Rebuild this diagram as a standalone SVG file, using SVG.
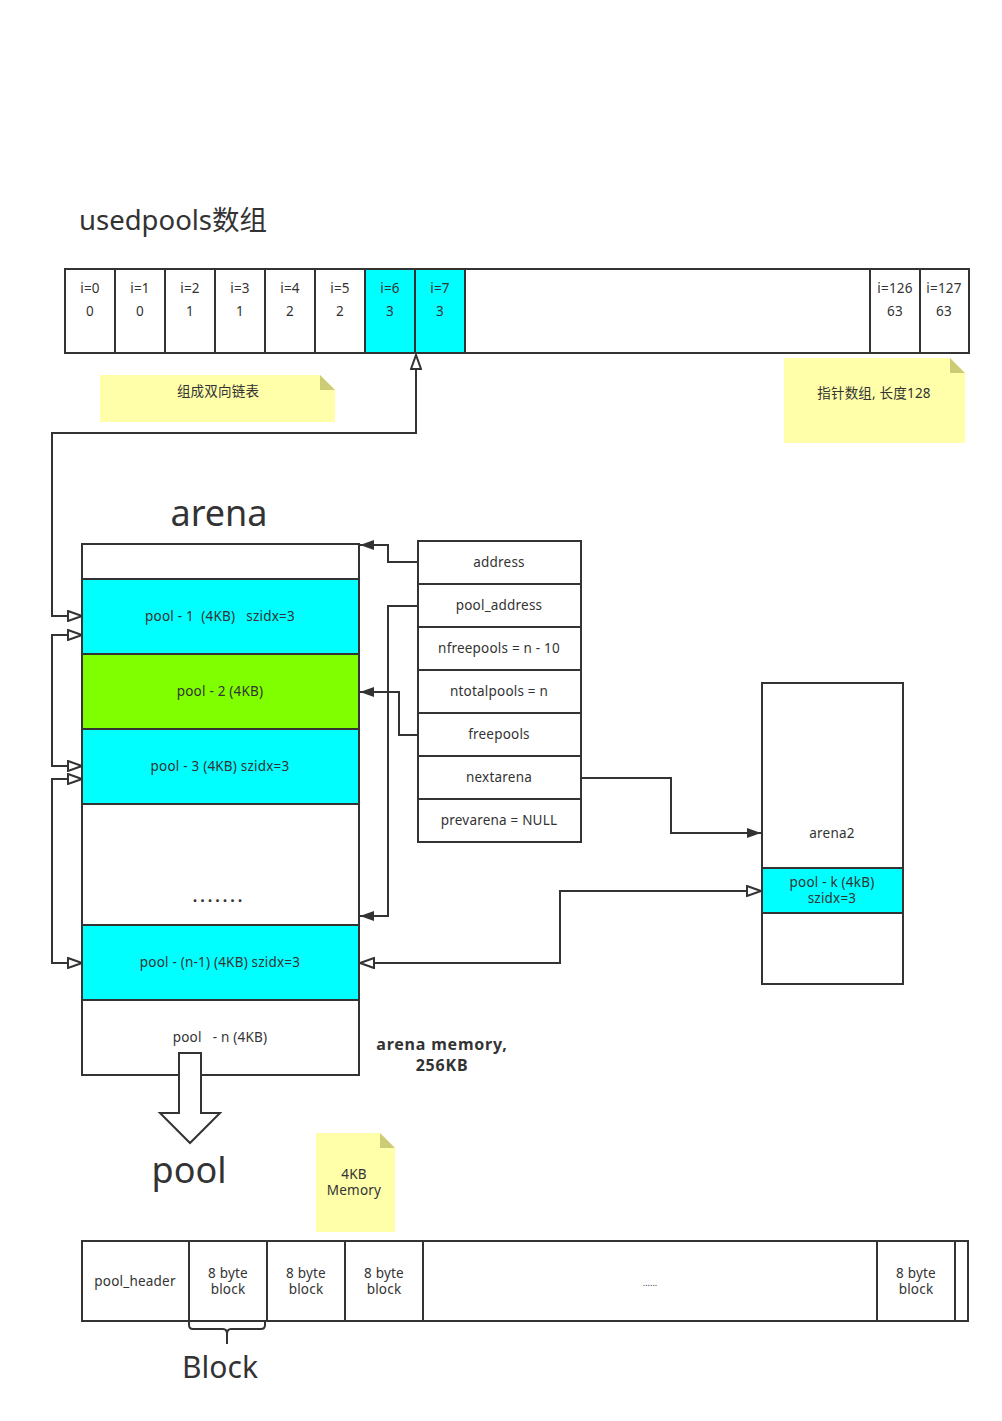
<svg xmlns="http://www.w3.org/2000/svg" width="1002" height="1421" viewBox="0 0 1002 1421">
<defs>
<style>
text{font-family:"Noto Sans","Noto Sans CJK SC",sans-serif;fill:#333;text-anchor:middle}
.s{font-size:13.5px;letter-spacing:0.2px}
.box{stroke:#333;stroke-width:2;fill:#fff}
.cy{fill:#00ffff}
.gr{fill:#80ff00}
.ln{stroke:#333;stroke-width:2;fill:none}
.note{fill:#ffffaa}
.fold{fill:#cccc77}
</style>
<marker id="fa" markerUnits="userSpaceOnUse" viewBox="0 0 14 10" markerWidth="14" markerHeight="10" refX="14" refY="5" orient="auto-start-reverse"><path d="M0,0 L14,5 L0,10 z" fill="#333"/></marker>
<marker id="ha" markerUnits="userSpaceOnUse" viewBox="-1 -1 16 12" markerWidth="16" markerHeight="12" refX="14" refY="5" orient="auto-start-reverse"><path d="M0,0 L14,5 L0,10 z" fill="#fff" stroke="#333" stroke-width="2"/></marker>
</defs>
<rect width="1002" height="1421" fill="#fff"/>

<text x="79" y="230" style="font-size:27.5px;text-anchor:start">usedpools数组</text>

<g id="usedpools">
<rect class="box" x="65" y="269" width="904" height="84"/>
<rect class="cy" x="365" y="270" width="100" height="82"/>
<g class="ln">
<line x1="115" y1="269" x2="115" y2="353"/><line x1="165" y1="269" x2="165" y2="353"/><line x1="215" y1="269" x2="215" y2="353"/><line x1="265" y1="269" x2="265" y2="353"/><line x1="315" y1="269" x2="315" y2="353"/><line x1="365" y1="269" x2="365" y2="353"/><line x1="415" y1="269" x2="415" y2="353"/><line x1="465" y1="269" x2="465" y2="353"/><line x1="870" y1="269" x2="870" y2="353"/><line x1="920" y1="269" x2="920" y2="353"/>
</g>
<g class="s">
<text x="90" y="293">i=0</text><text x="90" y="316">0</text>
<text x="140" y="293">i=1</text><text x="140" y="316">0</text>
<text x="190" y="293">i=2</text><text x="190" y="316">1</text>
<text x="240" y="293">i=3</text><text x="240" y="316">1</text>
<text x="290" y="293">i=4</text><text x="290" y="316">2</text>
<text x="340" y="293">i=5</text><text x="340" y="316">2</text>
<text x="390" y="293">i=6</text><text x="390" y="316">3</text>
<text x="440" y="293">i=7</text><text x="440" y="316">3</text>
<text x="895" y="293">i=126</text><text x="895" y="316">63</text>
<text x="944" y="293">i=127</text><text x="944" y="316">63</text>
</g>
</g>

<g id="note1">
<path class="note" d="M100,375 H320 L335,390 V422 H100 z"/>
<path class="fold" d="M320,375 L335,390 H320 z"/>
<text class="s" x="218" y="396">组成双向链表</text>
</g>
<g id="note2">
<path class="note" d="M784,358 H950 L965,373 V443 H784 z"/>
<path class="fold" d="M950,358 L965,373 H950 z"/>
<text class="s" x="874" y="398">指针数组, 长度128</text>
</g>

<text x="219" y="526" style="font-size:36px">arena</text>

<g id="arena">
<rect class="box" x="82" y="544" width="277" height="531"/>
<rect class="cy" x="83" y="579" width="275" height="75"/>
<rect class="gr" x="83" y="654" width="275" height="75"/>
<rect class="cy" x="83" y="729" width="275" height="75"/>
<rect class="cy" x="83" y="925" width="275" height="75"/>
<g class="ln">
<line x1="82" y1="579" x2="359" y2="579"/><line x1="82" y1="654" x2="359" y2="654"/><line x1="82" y1="729" x2="359" y2="729"/><line x1="82" y1="804" x2="359" y2="804"/><line x1="82" y1="925" x2="359" y2="925"/><line x1="82" y1="1000" x2="359" y2="1000"/>
</g>
<text class="s" x="220" y="621" xml:space="preserve">pool - 1  (4KB)   szidx=3</text>
<text class="s" x="220" y="696">pool - 2 (4KB)</text>
<text class="s" x="220" y="771">pool - 3 (4KB) szidx=3</text>
<text x="219" y="902" style="font-size:16px;font-weight:bold;letter-spacing:3px">.......</text>
<text class="s" x="220" y="967">pool - (n-1) (4KB) szidx=3</text>
<text class="s" x="220" y="1042" xml:space="preserve">pool   - n (4KB)</text>
</g>

<g id="arena_struct">
<rect class="box" x="418" y="541" width="163" height="301"/>
<g class="ln">
<line x1="418" y1="584" x2="581" y2="584"/><line x1="418" y1="627" x2="581" y2="627"/><line x1="418" y1="670" x2="581" y2="670"/><line x1="418" y1="713" x2="581" y2="713"/><line x1="418" y1="756" x2="581" y2="756"/><line x1="418" y1="799" x2="581" y2="799"/>
</g>
<text class="s" x="499" y="567">address</text>
<text class="s" x="499" y="610">pool_address</text>
<text class="s" x="499" y="653">nfreepools = n - 10</text>
<text class="s" x="499" y="696">ntotalpools = n</text>
<text class="s" x="499" y="739">freepools</text>
<text class="s" x="499" y="782">nextarena</text>
<text class="s" x="499" y="825">prevarena = NULL</text>
</g>

<g id="arena2">
<rect class="box" x="762" y="683" width="141" height="301"/>
<rect class="cy" x="763" y="868" width="139" height="45"/>
<line class="ln" x1="762" y1="868" x2="903" y2="868"/>
<line class="ln" x1="762" y1="913" x2="903" y2="913"/>
<text class="s" x="832" y="838">arena2</text>
<text class="s" x="832" y="887">pool - k (4kB)</text>
<text class="s" x="832" y="903">szidx=3</text>
</g>

<g id="memlabel">
<text x="442" y="1050" style="font-size:16px;font-weight:bold;letter-spacing:0.8px">arena memory,</text>
<text x="442" y="1071" style="font-size:16px;font-weight:bold;letter-spacing:0.8px">256KB</text>
</g>

<g id="bigarrow">
<path d="M179,1053 H201 V1113 H220 L190,1143 L160,1113 H179 z" fill="#fff" stroke="#333" stroke-width="2"/>
</g>
<text x="189" y="1183" style="font-size:36px">pool</text>

<g id="note3">
<path class="note" d="M316,1133 H380 L395,1148 V1232 H316 z"/>
<path class="fold" d="M380,1133 L395,1148 H380 z"/>
<text class="s" x="354" y="1179">4KB</text>
<text class="s" x="354" y="1195">Memory</text>
</g>

<g id="poolbar">
<rect class="box" x="82" y="1241" width="886" height="80"/>
<g class="ln">
<line x1="189" y1="1241" x2="189" y2="1321"/><line x1="267" y1="1241" x2="267" y2="1321"/><line x1="345" y1="1241" x2="345" y2="1321"/><line x1="423" y1="1241" x2="423" y2="1321"/><line x1="877" y1="1241" x2="877" y2="1321"/><line x1="955" y1="1241" x2="955" y2="1321"/>
</g>
<text class="s" x="135" y="1286">pool_header</text>
<text class="s" x="228" y="1278">8 byte</text><text class="s" x="228" y="1294">block</text>
<text class="s" x="306" y="1278">8 byte</text><text class="s" x="306" y="1294">block</text>
<text class="s" x="384" y="1278">8 byte</text><text class="s" x="384" y="1294">block</text>
<text class="s" x="916" y="1278">8 byte</text><text class="s" x="916" y="1294">block</text>
<text x="650" y="1286" style="font-size:9px">......</text>
</g>

<g id="brace">
<path class="ln" d="M189,1322 V1325 Q189,1329 193,1329 H223 Q227,1329 227,1334 V1344 M227,1334 Q227,1329 231,1329 H261 Q265,1329 265,1325 V1322"/>
</g>
<text x="220" y="1378" style="font-size:30px">Block</text>

<g id="connectors">
<path class="ln" d="M82,616 H52 V433 H416 V355" marker-start="url(#ha)" marker-end="url(#ha)"/>
<path class="ln" d="M82,635 H52 V766 H82" marker-start="url(#ha)" marker-end="url(#ha)"/>
<path class="ln" d="M82,779 H52 V963 H82" marker-start="url(#ha)" marker-end="url(#ha)"/>
<path class="ln" d="M418,562 H388 V545 H360" marker-end="url(#fa)"/>
<path class="ln" d="M418,606 H388 V916 H360" marker-end="url(#fa)"/>
<path class="ln" d="M418,735 H399 V692 H360" marker-end="url(#fa)"/>
<path class="ln" d="M581,778 H671 V833 H761" marker-end="url(#fa)"/>
<path class="ln" d="M360,963 H560 V891 H761" marker-start="url(#ha)" marker-end="url(#ha)"/>
</g>
</svg>
